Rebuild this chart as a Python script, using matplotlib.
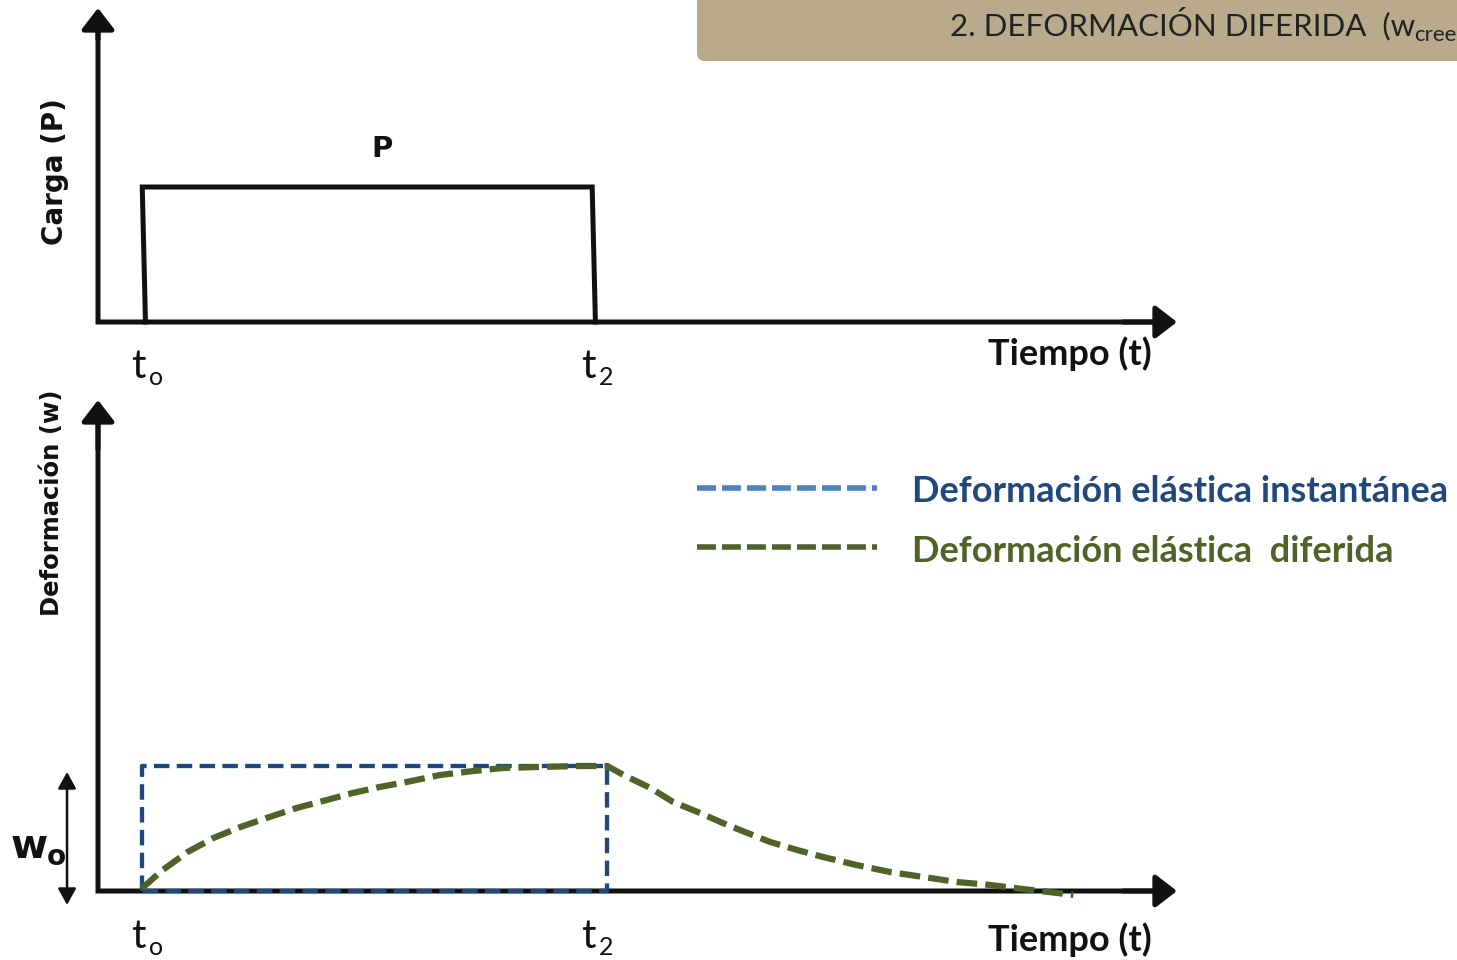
import numpy as np
import matplotlib.pyplot as plt
from matplotlib.patches import FancyBboxPatch

# --- datos (tiempo en unidades arbitrarias, eje de 0 a 10) ---
# carga P aplicada entre t0 y t2 (dibujo a mano, algo inclinado)
t_carga = [0.44, 0.41, 4.58, 4.61]
p_carga = [0.0, 1.0, 1.0, 0.0]

# deformacion elastica instantanea (rectangulo)
t_inst = [0.41, 0.41, 4.72, 4.72, 0.41]
w_inst = [0.0, 1.0, 1.0, 0.0, 0.0]

# deformacion diferida: subida hasta t2 y recuperacion despues
t_dif = [0.405, 0.60, 0.83, 1.07, 1.32, 1.59, 1.84, 2.12, 2.36, 2.61, 2.86,
         3.17, 3.48, 3.75, 4.07, 4.47, 4.72,
         4.87, 5.12, 5.33, 5.58, 5.79, 6.02, 6.23, 6.48, 6.72, 7.03, 7.34,
         7.65, 7.96, 8.27, 8.57, 8.89, 9.04]
w_dif = [0.02, 0.168, 0.312, 0.424, 0.512, 0.592, 0.664, 0.728, 0.784, 0.832,
         0.872, 0.928, 0.96, 0.984, 0.992, 1.0, 1.0,
         0.928, 0.824, 0.712, 0.624, 0.544, 0.464, 0.392, 0.328, 0.272, 0.208,
         0.152, 0.112, 0.072, 0.048, 0.016, -0.016, -0.032]

etiquetas_t = ['o', '2']
leyenda = ['Deformación elástica instantánea', 'Deformación elástica  diferida']

NEGRO = '#111111'
AZUL_OSC = '#1F497D'
AZUL = '#4F81BD'
VERDE = '#4F6228'
W, H = 1457, 960

fig = plt.figure(figsize=(W / 100, H / 100), dpi=100)

# capa de fondo en pixeles para textos y la banda de titulo
ax0 = fig.add_axes([0, 0, 1, 1])
ax0.set_xlim(0, W)
ax0.set_ylim(H, 0)
ax0.axis('off')
ax0.add_patch(FancyBboxPatch((697, -40), 900, 101, boxstyle='round,pad=0,rounding_size=8',
                             fc='#B8AA8A', ec='none'))
ax0.text(950, 35, '2. DEFORMACIÓN DIFERIDA  (w', fontsize=22.5, family='Lato',
         color='#222222', va='baseline', ha='left')
ax0.text(1414, 41, 'creep', fontsize=16, family='Lato', color='#222222',
         va='baseline', ha='left', clip_on=True)


def flecha(ax, x0, y0, x1, y1, lw=3.6, hl=1.3, hw=1.0, estilo='-|>'):
    ax.annotate('', xy=(x1, y1), xytext=(x0, y0), annotation_clip=False,
                arrowprops=dict(arrowstyle=f'{estilo},head_length={hl},head_width={hw}',
                                lw=lw, color=NEGRO, shrinkA=0, shrinkB=0,
                                mutation_scale=10))


def ejes(ax, ymax):
    ax.set_xlim(0, 10)
    ax.set_ylim(0, ymax)
    ax.axis('off')
    # ejes en L (sin snap para que coincida con las flechas)
    ax.plot([0, 0, 9.8], [ymax * 0.95, 0, 0], color=NEGRO, lw=3.6, snap=False,
            solid_joinstyle='miter', solid_capstyle='butt', clip_on=False)
    flecha(ax, 0, ymax * 0.9, 0, ymax)
    flecha(ax, 9.5, 0, 10, 0)


# panel superior: carga
ax1 = fig.add_axes([98 / W, (H - 322) / H, 1079 / W, 314 / H])
ejes(ax1, 314 / 135)
ax1.plot(t_carga, p_carga, color=NEGRO, lw=3.6, solid_joinstyle='miter', clip_on=False)

# panel inferior: deformacion
ax2 = fig.add_axes([98 / W, 69 / H, 1079 / W, 491 / H])
ejes(ax2, 491 / 125)
ax2.plot(t_inst, w_inst, color=AZUL_OSC, lw=3.1, dashes=(3.6, 1.7), clip_on=False, zorder=4)
ax2.plot(t_dif, w_dif, color=VERDE, lw=4.5, dashes=(3.3, 1.3), clip_on=False, zorder=5)
# flecha doble de w0
flecha(ax2, -0.287, -0.112, -0.287, 0.952, lw=1.8, hl=1.0, hw=0.55, estilo='<|-|>')

# leyenda manual
ax0.plot([697, 877], [488, 488], color=AZUL, lw=4.0, dashes=(3.4, 1.1))
ax0.plot([697, 877], [547, 547], color=VERDE, lw=4.0, dashes=(3.4, 1.1))
ax0.text(912, 502, leyenda[0], fontsize=26, family='Lato', weight='bold',
         color=AZUL_OSC, va='baseline')
ax0.text(912, 562, leyenda[1], fontsize=26, family='Lato', weight='bold',
         color=VERDE, va='baseline')

# textos de ejes
ax0.text(55, 172, 'Carga (P)', fontsize=20, weight='bold', rotation=90,
         ha='center', va='center', color=NEGRO)
ax0.text(52, 503, 'Deformación (w)', fontsize=17.5, weight='bold', rotation=90,
         ha='center', va='center', color=NEGRO)
ax0.text(382, 157, 'P', fontsize=21, weight='bold', ha='center', va='baseline', color=NEGRO)
ax0.text(11, 858, 'w', fontsize=29, weight='bold', va='baseline', color=NEGRO)
ax0.text(47, 865, 'o', fontsize=20, weight='bold', va='baseline', color=NEGRO)

for base in (378, 948):
    for xt, sub in zip((131, 581), etiquetas_t):
        ax0.text(xt, base, 't', fontsize=29, family='Lato', va='baseline', color=NEGRO)
        ax0.text(xt + 18, base + 7, sub, fontsize=18, family='Lato', va='baseline', color=NEGRO)

ax0.text(1152, 365, 'Tiempo (t)', fontsize=26, family='Lato', weight='bold',
         ha='right', va='baseline', color=NEGRO)
ax0.text(1152, 951, 'Tiempo (t)', fontsize=26, family='Lato', weight='bold',
         ha='right', va='baseline', color=NEGRO)

fig.savefig('out.png', dpi=100)
